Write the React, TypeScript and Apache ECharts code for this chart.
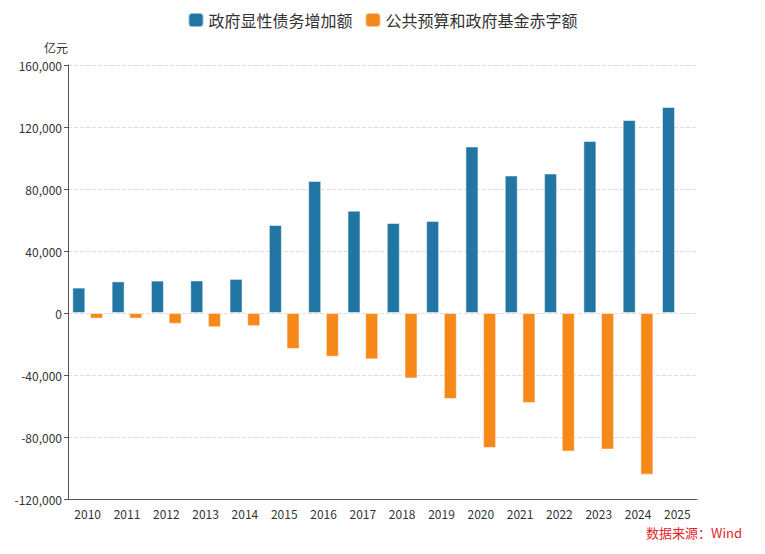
import React, { useEffect, useRef } from "react";
import * as echarts from "echarts";

const years = ["2010","2011","2012","2013","2014","2015","2016","2017","2018","2019","2020","2021","2022","2023","2024","2025"];
const debtIncrease = [16400, 20400, 20900, 21000, 22000, 56800, 85200, 66000, 58100, 59400, 107400, 88700, 90000, 111000, 124500, 132900];
const deficit = [-3600, -3600, -7000, -9200, -8500, -23200, -28200, -29900, -42200, -55500, -87100, -58000, -89400, -88100, -104300, null];
const seriesNames = ["政府显性债务增加额", "公共预算和政府基金赤字额"];

const FONT = "'Noto Sans CJK SC', 'Noto Sans', sans-serif";

export default function App() {
  const ref = useRef<HTMLDivElement>(null);
  useEffect(() => {
    const chart = echarts.init(ref.current!, undefined, { renderer: "svg" });
    chart.setOption({
      animation: false,
      textStyle: { fontFamily: FONT },
      legend: {
        top: 7,
        left: "center",
        icon: "roundRect",
        itemWidth: 15,
        itemHeight: 14,
        itemGap: 12,
        textStyle: { fontSize: 16, color: "#333", fontFamily: FONT },
        data: seriesNames,
      },
      grid: { left: 68, right: 68, top: 65, bottom: 55 },
      xAxis: {
        type: "category",
        data: years,
        axisLine: { onZero: false, lineStyle: { color: "#555" } },
        axisTick: { alignWithLabel: true, lineStyle: { color: "#555" } },
        axisLabel: { color: "#333", fontSize: 12, margin: 8, fontFamily: FONT },
      },
      yAxis: {
        type: "value",
        min: -120000,
        max: 160000,
        interval: 40000,
        name: "亿元",
        nameGap: 12,
        nameTextStyle: { color: "#333", fontSize: 12, align: "right", padding: [0, 0, 0, 0], fontFamily: FONT },
        axisLine: { show: true, lineStyle: { color: "#555" } },
        axisTick: { show: true, length: 4, lineStyle: { color: "#555" } },
        axisLabel: {
          color: "#333",
          fontSize: 12,
          margin: 6,
          fontFamily: FONT,
          formatter: (v: number) => v.toLocaleString("en-US"),
        },
        splitLine: { show: true, lineStyle: { color: "#ddd", type: "dashed" } },
      },
      series: [
        {
          name: seriesNames[0],
          type: "bar",
          data: debtIncrease,
          barWidth: 13,
          barGap: "36%",
          itemStyle: { color: "#2176a3", borderColor: "rgba(255,255,255,0.5)", borderWidth: 1 },
        },
        {
          name: seriesNames[1],
          type: "bar",
          data: deficit,
          barWidth: 13,
          barGap: "36%",
          itemStyle: { color: "#f7891b", borderColor: "rgba(255,255,255,0.5)", borderWidth: 1 },
        },
      ],
      graphic: [
        {
          type: "text",
          right: 23,
          top: 526,
          style: { text: "数据来源：Wind", fill: "#e0262a", fontSize: 13, fontFamily: FONT },
        },
      ],
    });
    return () => chart.dispose();
  }, []);
  return <div ref={ref} style={{ width: 765, height: 554, margin: -8 }} />;
}
